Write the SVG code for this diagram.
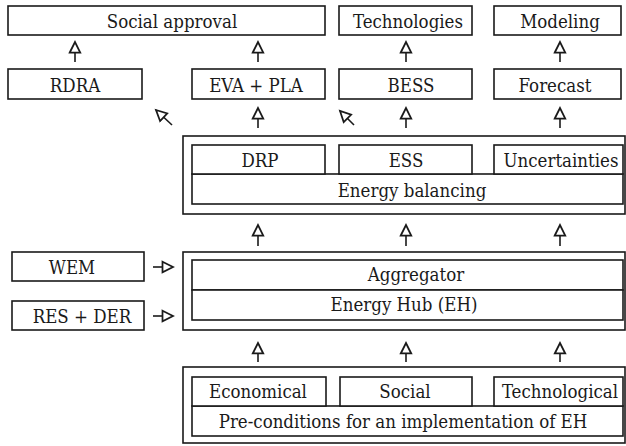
<svg xmlns="http://www.w3.org/2000/svg" width="626" height="446" viewBox="0 0 626 446">
<style>
rect{fill:#fff;stroke:#1a1a1a;stroke-width:1.6}
text{font-family:'DejaVu Serif',serif;font-stretch:condensed;font-size:18.5px;fill:#1a1a1a;text-anchor:middle}
.c line{stroke:#1a1a1a;stroke-width:1.6;marker-end:url(#ah)}
</style>
<defs>
<marker id="ah" markerUnits="userSpaceOnUse" markerWidth="14" markerHeight="14" refX="9" refY="5" orient="auto" viewBox="-1 -1 12 12">
<path d="M0,0.5 L9,5 L0,9.5 Z" fill="#fff" stroke="#1a1a1a" stroke-width="1.5"/>
</marker>
</defs>
<rect x="0" y="0" width="626" height="446" style="fill:#fff;stroke:none"/>
<g id="social-approval"><rect x="8" y="6" width="317" height="29"/><text x="172" y="28">Social approval</text></g>
<g id="technologies"><rect x="339" y="6" width="133" height="29"/><text x="408" y="28">Technologies</text></g>
<g id="modeling"><rect x="494" y="6" width="127" height="29"/><text x="560" y="28">Modeling</text></g>
<g id="rdra"><rect x="8" y="69" width="134" height="30"/><text x="75" y="92">RDRA</text></g>
<g id="eva-pla"><rect x="192" y="69" width="133" height="30"/><text x="256" y="92">EVA + PLA</text></g>
<g id="bess"><rect x="339" y="69" width="133" height="30"/><text x="411" y="92">BESS</text></g>
<g id="forecast"><rect x="494" y="69" width="127" height="30"/><text x="555" y="92">Forecast</text></g>
<g id="energy-balancing-group">
<rect x="183" y="136" width="442" height="78"/>
<rect x="192" y="174" width="431" height="30"/><text x="412" y="197">Energy balancing</text>
<g id="drp"><rect x="192" y="145" width="133" height="29"/><text x="260" y="167">DRP</text></g>
<g id="ess"><rect x="339" y="145" width="133" height="29"/><text x="406" y="167">ESS</text></g>
<g id="uncertainties"><rect x="494" y="145" width="129" height="29"/><text x="561" y="167">Uncertainties</text></g>
</g>
<g id="wem"><rect x="12" y="252" width="132" height="29"/><text x="72" y="274">WEM</text></g>
<g id="res-der"><rect x="12" y="301" width="132" height="29"/><text x="82" y="323">RES + DER</text></g>
<g id="aggregator-group">
<rect x="183" y="252" width="442" height="78"/>
<g id="aggregator"><rect x="192" y="260" width="431" height="30"/><text x="416" y="281">Aggregator</text></g>
<g id="energy-hub"><rect x="192" y="290" width="431" height="30"/><text x="404" y="311">Energy Hub (EH)</text></g>
</g>
<g id="preconditions-group">
<rect x="183" y="367" width="442" height="76"/>
<rect x="192" y="406" width="431" height="30"/><text x="403" y="428">Pre-conditions for an implementation of EH</text>
<g id="economical"><rect x="192" y="377" width="134" height="29"/><text x="258" y="398">Economical</text></g>
<g id="social"><rect x="340" y="377" width="132" height="29"/><text x="405" y="398">Social</text></g>
<g id="technological"><rect x="494" y="377" width="129" height="29"/><text x="560" y="398">Technological</text></g>
</g>
<g id="connectors" class="c">
<line x1="75" y1="62" x2="75" y2="42"/>
<line x1="258" y1="62" x2="258" y2="42"/>
<line x1="406" y1="62" x2="406" y2="42"/>
<line x1="560" y1="62" x2="560" y2="42"/>
<line x1="172" y1="125" x2="156" y2="110"/>
<line x1="354" y1="125" x2="340" y2="111"/>
<line x1="258" y1="128" x2="258" y2="108"/>
<line x1="406" y1="128" x2="406" y2="108"/>
<line x1="560" y1="128" x2="560" y2="108"/>
<line x1="258" y1="246" x2="258" y2="225"/>
<line x1="406" y1="246" x2="406" y2="225"/>
<line x1="560" y1="246" x2="560" y2="225"/>
<line x1="153" y1="267" x2="173" y2="267"/>
<line x1="153" y1="316" x2="173" y2="316"/>
<line x1="258" y1="362" x2="258" y2="343"/>
<line x1="406" y1="362" x2="406" y2="343"/>
<line x1="560" y1="362" x2="560" y2="343"/>
</g>
</svg>
